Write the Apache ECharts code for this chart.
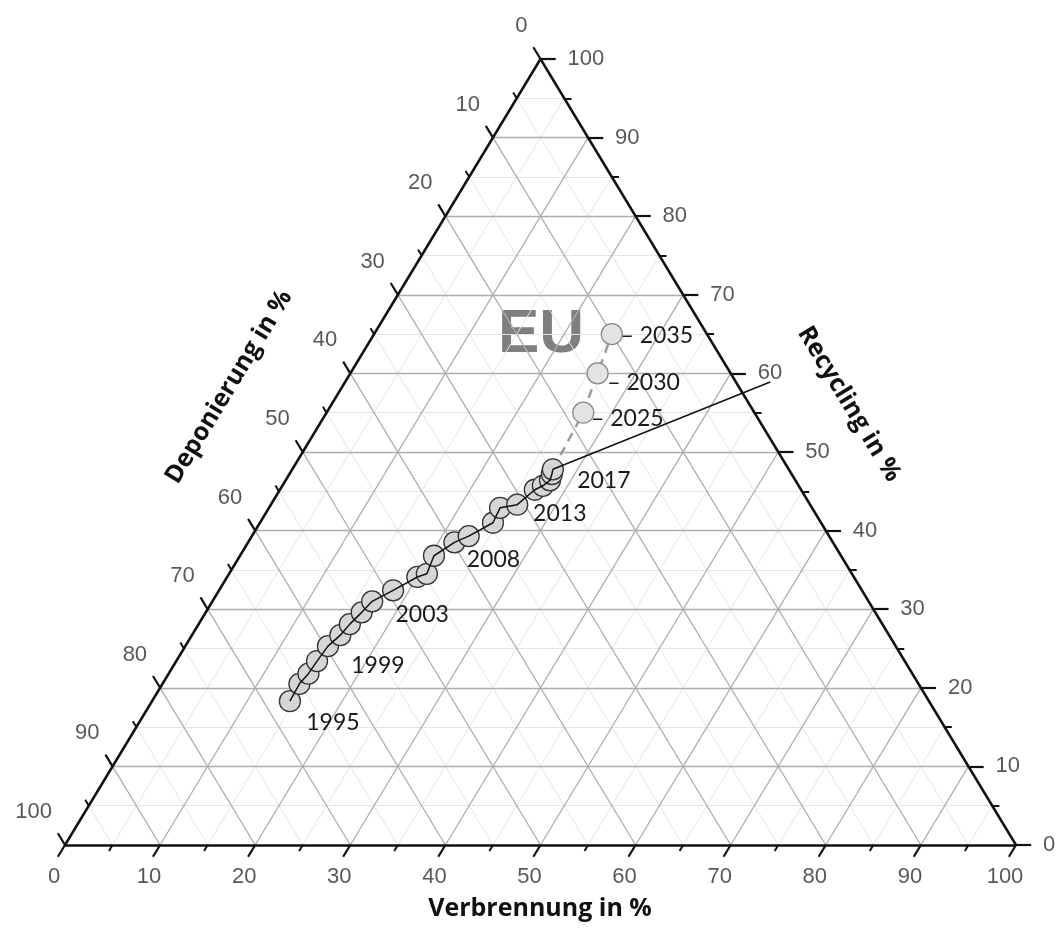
<!DOCTYPE html>
<html>
<head>
<meta charset="utf-8">
<script src="https://cdn.jsdelivr.net/npm/echarts@6/dist/echarts.min.js"></script>
<style>
  html, body { margin: 0; padding: 0; background: #fff; }
  #chart { width: 1056px; height: 935px; }
</style>
</head>
<body>
<div id="chart"></div>
<script>
// EU: Recycling / Verbrennung / Deponierung in %
const years = [1995, 1996, 1997, 1998, 1999, 2000, 2001, 2002, 2003, 2004, 2005, 2006,
  2007, 2008, 2009, 2010, 2011, 2012, 2013, 2014, 2015, 2016, 2017]
const recycling = [18.3, 20.5, 21.8, 23.4, 25.3, 26.7, 28.1, 29.6, 31.0, 32.4, 34.1, 34.5,
  36.8, 38.5, 39.3, 41.0, 42.9, 43.3, 45.2, 45.7, 46.4, 47.2, 47.8]
const incineration = [14.5, 14.4, 14.7, 14.8, 15.0, 15.6, 15.9, 16.4, 16.8, 18.3, 20.0, 20.8,
  20.4, 21.7, 22.8, 24.5, 24.3, 25.9, 26.8, 27.4, 27.8, 27.6, 27.4]
const landfill = [67.2, 65.1, 63.5, 61.8, 59.7, 57.7, 56.0, 54.0, 52.2, 49.3, 45.9, 44.7,
  42.8, 39.8, 37.9, 34.5, 32.8, 30.8, 28.0, 26.9, 25.8, 25.2, 24.8]
const labelledYears = [1995, 1999, 2003, 2008, 2013, 2017]

const targetYears = [2025, 2030, 2035]
const targetRecycling = [55, 60, 65]
const targetIncineration = [27, 26, 25]
const targetLandfill = [18, 14, 10]

// trend line from 2017 out to the 60 % recycling mark
const trendRecycling = [47.8, 58.9]
const trendIncineration = [27.4, 44.7]
const trendLandfill = [24.8, -3.6]

const tickValues = [0, 10, 20, 30, 40, 50, 60, 70, 80, 90, 100]
const minorValues = [5, 15, 25, 35, 45, 55, 65, 75, 85, 95]

// ternary -> cartesian (0..100 on both hidden axes)
function toXY(r, v, d) {
  const s = r + v + d
  return [(v + r / 2) / s * 100, r / s * 100]
}
const rv = (r, v) => toXY(r, v, 100 - r - v)

function gridLines(values) {
  const out = []
  values.forEach((k) => {
    out.push({ coords: [rv(k, 0), rv(k, 100 - k)] })          // Recycling = k
    out.push({ coords: [rv(0, k), rv(100 - k, k)] })          // Verbrennung = k
    out.push({ coords: [rv(0, 100 - k), rv(100 - k, 0)] })    // Deponierung = k
  })
  return out
}

function ticks(values, len, lenRight) {
  const out = []
  values.forEach((k) => {
    out.push({ coords: [rv(0, k), rv(-len, k)] })                          // bottom
    out.push({ coords: [rv(100 - k, 0), rv(100 - k + len, -len)] })        // left
    out.push({ coords: [rv(k, 100 - k), rv(k, 100 - k + lenRight)] })      // right
  })
  return out
}

const chart = echarts.init(document.getElementById('chart'))

const tickFont = { fontFamily: 'Liberation Sans, Arial, sans-serif', fontSize: 22, color: '#2e2e2e' }
const yearFont = { fontFamily: 'Lato, sans-serif', fontSize: 23, color: '#1a1a1a' }

const yearOffsets = {
  1995: [43, 21], 1999: [50, 19], 2003: [50, 13], 2008: [39, 17], 2013: [25, 24], 2017: [51, 11],
}
const targetOffsets = { 2025: [44, 6], 2030: [46, 9], 2035: [45, 1] }

const historyData = years.map((y, i) => {
  const item = { value: toXY(recycling[i], incineration[i], landfill[i]), name: String(y) }
  if (labelledYears.includes(y)) {
    item.label = { show: true, position: 'inside', offset: yearOffsets[y], formatter: String(y), ...yearFont }
  }
  return item
})

const targetData = targetYears.map((y, i) => ({
  value: toXY(targetRecycling[i], targetIncineration[i], targetLandfill[i]),
  name: String(y),
  label: { show: true, position: 'inside', offset: targetOffsets[y], formatter: '– ' + y, ...yearFont },
}))

const invisible = { color: 'rgba(0,0,0,0)' }
const titleFont = 'bold 25px "Open Sans", sans-serif'

chart.setOption({
  animation: false,
  grid: { left: 65, top: 59, width: 951, height: 786 },
  xAxis: { type: 'value', min: 0, max: 100, show: false },
  yAxis: { type: 'value', min: 0, max: 100, show: false },
  graphic: [
    {
      type: 'text', silent: true, x: 541, y: 335,
      style: {
        text: 'EU', textAlign: 'center', textVerticalAlign: 'middle',
        font: 'bold 62px "Liberation Sans", Arial, sans-serif', fill: '#7f7f7f',
      },
    },
    {
      type: 'text', silent: true, x: 540, y: 909,
      style: { text: 'Verbrennung in %', textAlign: 'center', textVerticalAlign: 'middle', font: titleFont, fill: '#111' },
    },
    {
      type: 'text', silent: true, x: 229, y: 387, rotation: Math.PI * 58.8 / 180,
      style: { text: 'Deponierung in %', textAlign: 'center', textVerticalAlign: 'middle', font: titleFont, fill: '#111' },
    },
    {
      type: 'text', silent: true, x: 849, y: 404, rotation: -Math.PI * 58.8 / 180,
      style: { text: 'Recycling in %', textAlign: 'center', textVerticalAlign: 'middle', font: titleFont, fill: '#111' },
    },
  ],
  series: [
    {
      type: 'lines', coordinateSystem: 'cartesian2d', silent: true, z: 1, clip: false,
      lineStyle: { color: '#e4e4e4', width: 1, opacity: 1 },
      data: gridLines(minorValues),
    },
    {
      type: 'lines', coordinateSystem: 'cartesian2d', silent: true, z: 2, clip: false,
      lineStyle: { color: '#adadad', width: 1.3, opacity: 1 },
      data: gridLines(tickValues.slice(1, -1)),
    },
    {
      type: 'lines', coordinateSystem: 'cartesian2d', silent: true, z: 3, clip: false,
      lineStyle: { color: '#111', width: 2.5, opacity: 1 },
      data: [
        { coords: [rv(0, 0), rv(0, 100)] },
        { coords: [rv(0, 100), rv(100, 0)] },
        { coords: [rv(100, 0), rv(0, 0)] },
      ],
    },
    {
      type: 'lines', coordinateSystem: 'cartesian2d', silent: true, z: 3, clip: false,
      lineStyle: { color: '#111', width: 2.2, opacity: 1 },
      data: ticks(tickValues, 1.5, 1.6),
    },
    {
      type: 'lines', coordinateSystem: 'cartesian2d', silent: true, z: 3, clip: false,
      lineStyle: { color: '#111', width: 2, opacity: 1 },
      data: ticks(minorValues, 0.75, 0.75),
    },
    {
      // bottom tick labels (Verbrennung)
      type: 'scatter', silent: true, symbolSize: 1, itemStyle: invisible, z: 4, clip: false,
      label: { show: true, position: 'inside', offset: [-11, 32], formatter: (p) => p.name, ...tickFont },
      data: tickValues.map((k) => ({ name: String(k), value: rv(0, k) })),
    },
    {
      // left tick labels (Deponierung)
      type: 'scatter', silent: true, symbolSize: 1, itemStyle: invisible, z: 4, clip: false,
      label: { show: true, position: 'inside', align: 'right', offset: [-13, -33], formatter: (p) => p.name, ...tickFont },
      data: tickValues.map((k) => ({ name: String(k), value: rv(100 - k, 0) })),
    },
    {
      // right tick labels (Recycling)
      type: 'scatter', silent: true, symbolSize: 1, itemStyle: invisible, z: 4, clip: false,
      label: { show: true, position: 'inside', align: 'left', offset: [27, 0], formatter: (p) => p.name, ...tickFont },
      data: tickValues.map((k) => ({ name: String(k), value: rv(k, 100 - k) })),
    },
    {
      // projection path
      type: 'line', silent: true, z: 5, symbol: 'none', clip: false,
      lineStyle: { color: '#9a9a9a', width: 2.5, type: [9, 7] },
      data: [historyData[historyData.length - 1].value].concat(targetData.map((d) => d.value)),
    },
    {
      type: 'scatter', silent: true, z: 6, symbolSize: 21,
      itemStyle: { color: '#d6d6d6', borderColor: '#333', borderWidth: 1.3, opacity: 1 },
      data: historyData,
    },
    {
      type: 'scatter', silent: true, z: 6, symbolSize: 21,
      itemStyle: { color: '#e3e3e3', borderColor: '#8a8a8a', borderWidth: 1.3, opacity: 1 },
      data: targetData,
    },
    {
      type: 'line', silent: true, z: 7, symbol: 'none',
      lineStyle: { color: '#111', width: 1.5 },
      data: historyData.map((d) => d.value),
    },
    {
      type: 'line', silent: true, z: 7, symbol: 'none', clip: false,
      lineStyle: { color: '#111', width: 1.5 },
      data: trendRecycling.map((r, i) => toXY(r, trendIncineration[i], trendLandfill[i])),
    },
  ],
})
</script>
</body>
</html>
